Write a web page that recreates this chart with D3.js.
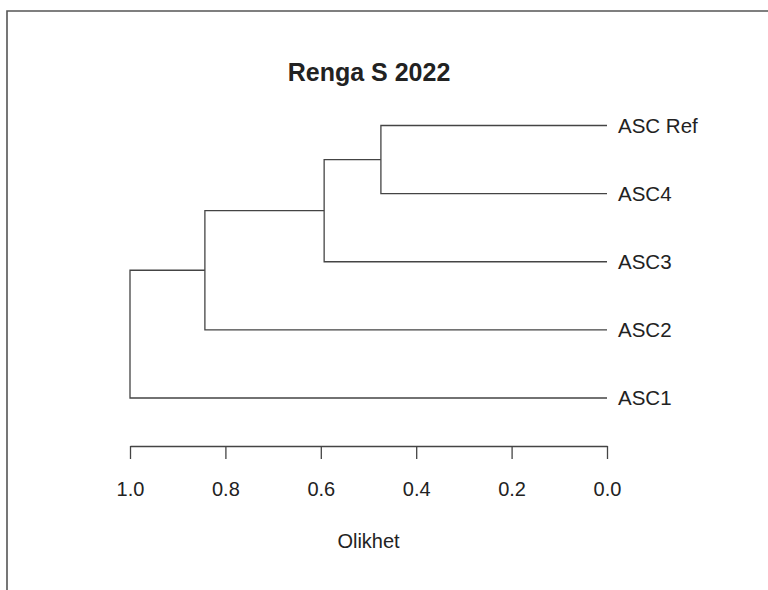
<!DOCTYPE html>
<html>
<head>
<meta charset="utf-8">
<script src="https://cdn.jsdelivr.net/npm/d3@7"></script>
<style>
  html, body { margin: 0; padding: 0; background: #fff; }
  svg { display: block; }
  text { font-family: "Liberation Sans", Arial, sans-serif; fill: #222; }
</style>
</head>
<body>
<svg id="chart" width="768" height="590"></svg>
<script>
// ---- data ----
const title = "Renga S 2022";
const xLabel = "Olikhet";
const leaves = ["ASC Ref", "ASC4", "ASC3", "ASC2", "ASC1"];
// successive merges: [left cluster, right leaf, height]
const mergeLeft  = ["ASC Ref", "m1", "m2", "m3"];
const mergeRight = ["ASC4", "ASC3", "ASC2", "ASC1"];
const mergeHeights = [0.474, 0.593, 0.843, 1.0];
const tickValues = [1.0, 0.8, 0.6, 0.4, 0.2, 0.0];

// ---- build hierarchy ----
const nodes = {};
leaves.forEach(l => nodes[l] = { name: l, height: 0 });
mergeHeights.forEach((h, i) => {
  const id = "m" + (i + 1);
  nodes[id] = { name: id, height: h, children: [nodes[mergeLeft[i]], nodes[mergeRight[i]]] };
});
const root = d3.hierarchy(nodes["m" + mergeHeights.length]);

const svg = d3.select("#chart");
const x = d3.scaleLinear().domain([1, 0]).range([130, 607]);
const y = d3.scalePoint().domain(leaves).range([125.5, 398]);

// compute y positions
root.eachAfter(n => {
  if (!n.children) n.yPos = y(n.data.name);
  else n.yPos = d3.mean(n.children, c => c.yPos);
});

// frame
svg.append("path")
  .attr("d", "M7,590V11H768")
  .attr("fill", "none").attr("stroke", "#555").attr("stroke-width", 1.6);

// title
svg.append("text")
  .attr("x", 369).attr("y", 81)
  .attr("text-anchor", "middle")
  .style("font-size", "25px").style("font-weight", "bold")
  .text(title);

// dendrogram links
const g = svg.append("g").attr("fill", "none").attr("stroke", "#444").attr("stroke-width", 1.3);
root.descendants().filter(n => n.children).forEach(n => {
  const [a, b] = n.children;
  const xp = x(n.data.height);
  g.append("path").attr("d",
    `M${x(a.data.height)},${a.yPos}H${xp}V${b.yPos}H${x(b.data.height)}`);
});

// leaf labels
svg.selectAll(".leaf").data(root.leaves()).join("text")
  .attr("class", "leaf")
  .attr("x", x(0) + 11)
  .attr("y", d => d.yPos)
  .attr("dy", "0.36em")
  .style("font-size", "20.5px")
  .text(d => d.data.name);

// axis
const axis = d3.axisBottom(x)
  .tickValues(tickValues)
  .tickFormat(d3.format(".1f"))
  .tickSize(13)
  .tickSizeOuter(0)
  .tickPadding(23);
const ax = svg.append("g").attr("transform", "translate(0,446)").call(axis);
ax.selectAll("path, line").attr("stroke", "#444").attr("stroke-width", 1.3);
ax.selectAll("text").style("font-size", "20px").style("fill", "#222")
  .style("font-family", "'Liberation Sans', Arial, sans-serif");

// x label
svg.append("text")
  .attr("x", x(0.5)).attr("y", 548)
  .attr("text-anchor", "middle")
  .style("font-size", "20px")
  .text(xLabel);
</script>
</body>
</html>
